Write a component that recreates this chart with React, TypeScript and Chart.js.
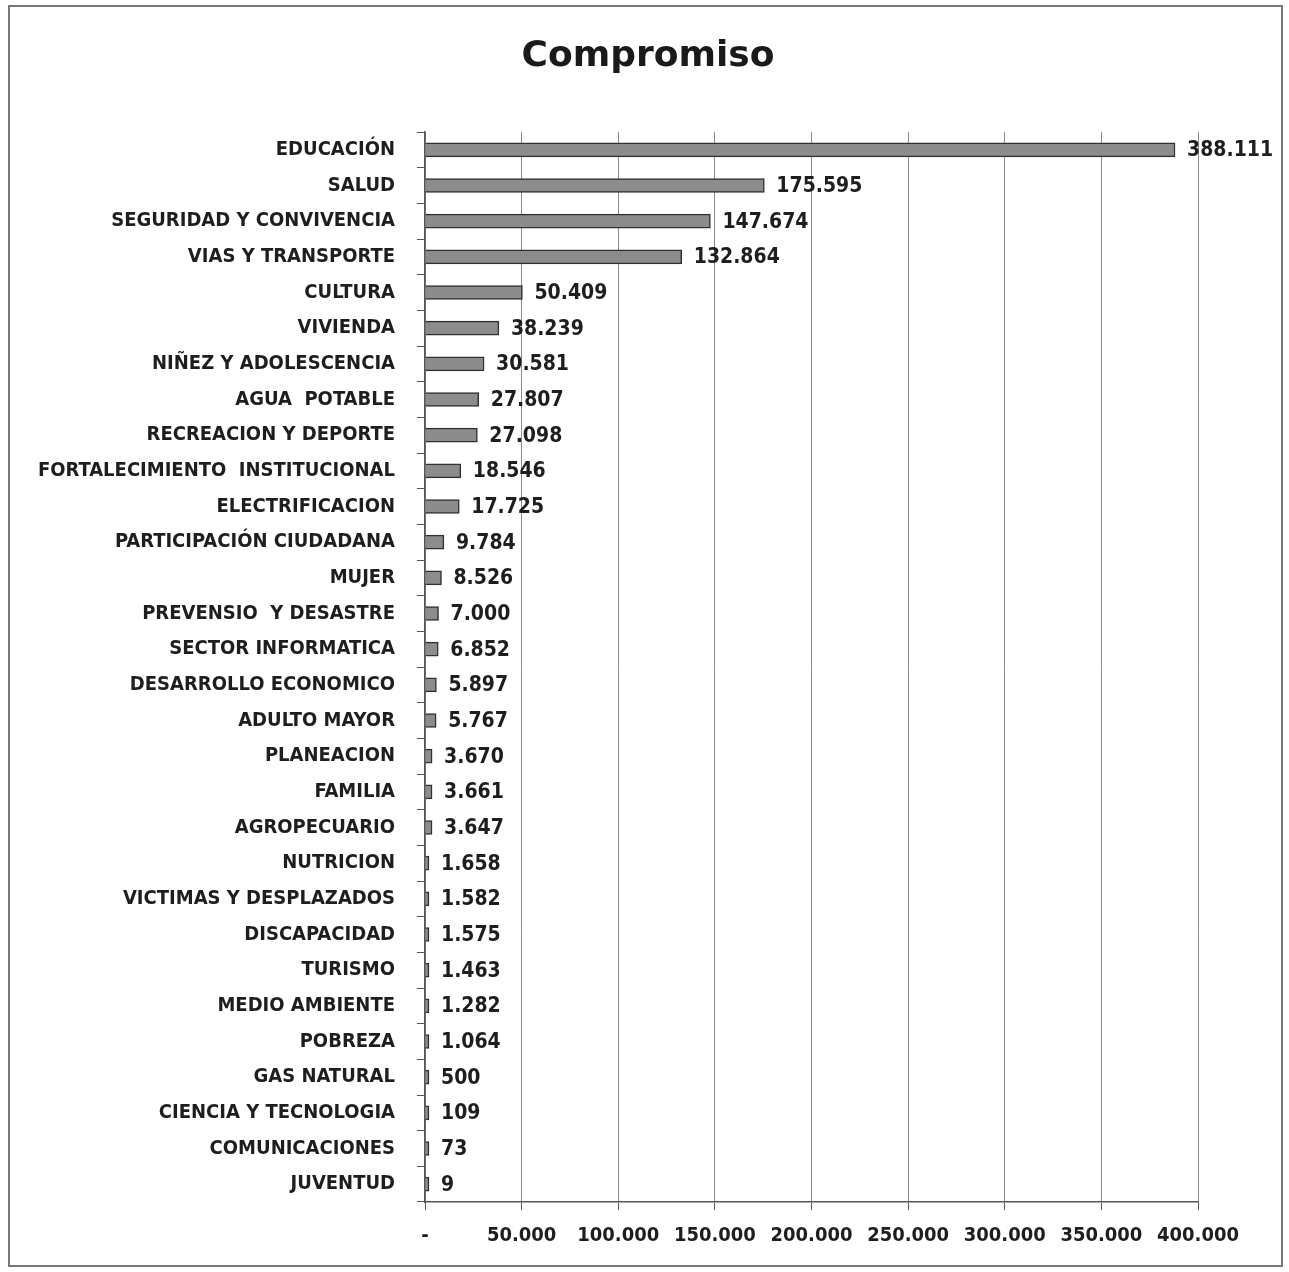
import React, { useEffect, useRef } from "react";
import { Chart, registerables } from "chart.js";

Chart.register(...registerables);

const categories: string[] = [
  "EDUCACIÓN",
  "SALUD",
  "SEGURIDAD Y CONVIVENCIA",
  "VIAS Y TRANSPORTE",
  "CULTURA",
  "VIVIENDA",
  "NIÑEZ Y ADOLESCENCIA",
  "AGUA  POTABLE",
  "RECREACION Y DEPORTE",
  "FORTALECIMIENTO  INSTITUCIONAL",
  "ELECTRIFICACION",
  "PARTICIPACIÓN CIUDADANA",
  "MUJER",
  "PREVENSIO  Y DESASTRE",
  "SECTOR INFORMATICA",
  "DESARROLLO ECONOMICO",
  "ADULTO MAYOR",
  "PLANEACION",
  "FAMILIA",
  "AGROPECUARIO",
  "NUTRICION",
  "VICTIMAS Y DESPLAZADOS",
  "DISCAPACIDAD",
  "TURISMO",
  "MEDIO AMBIENTE",
  "POBREZA",
  "GAS NATURAL",
  "CIENCIA Y TECNOLOGIA",
  "COMUNICACIONES",
  "JUVENTUD",
];

const compromiso: number[] = [
  388111, 175595, 147674, 132864, 50409, 38239, 30581, 27807, 27098, 18546,
  17725, 9784, 8526, 7000, 6852, 5897, 5767, 3670, 3661, 3647, 1658, 1582,
  1575, 1463, 1282, 1064, 500, 109, 73, 9,
];

const xTicks: number[] = [0, 50000, 100000, 150000, 200000, 250000, 300000, 350000, 400000];

const TITLE = "Compromiso";

const LABEL_FONT = "'Liberation Sans Narrow', 'DejaVu Sans Condensed', sans-serif";

function fmt(n: number): string {
  return String(n).replace(/\B(?=(\d{3})+(?!\d))/g, ".");
}

const valueLabelPlugin = {
  id: "valueLabels",
  afterDatasetsDraw(chart: any) {
    const ctx = chart.ctx;
    const meta = chart.getDatasetMeta(0);
    ctx.save();
    ctx.font = `bold 21px ${LABEL_FONT}`;
    ctx.fillStyle = "#1e1e1e";
    ctx.textAlign = "left";
    ctx.textBaseline = "middle";
    meta.data.forEach((bar: any, i: number) => {
      const v = chart.data.datasets[0].data[i] as number;
      ctx.fillText(fmt(v), bar.x + 12, bar.y + 1);
    });
    ctx.restore();
  },
};

const titlePlugin = {
  id: "pageTitle",
  afterDraw(chart: any) {
    const ctx = chart.ctx;
    ctx.save();
    ctx.font = "bold 36px 'DejaVu Sans', sans-serif";
    ctx.fillStyle = "#1a1a1a";
    ctx.textAlign = "center";
    ctx.textBaseline = "middle";
    ctx.fillText(TITLE, 648, 57);
    ctx.restore();
  },
};

export default function App() {
  const ref = useRef<HTMLCanvasElement | null>(null);

  useEffect(() => {
    if (!ref.current) return;
    const chart = new Chart(ref.current, {
      type: "bar",
      data: {
        labels: categories,
        datasets: [
          {
            label: TITLE,
            data: compromiso,
            backgroundColor: "#8c8c8c",
            borderColor: "#303030",
            borderWidth: 1.5,
            barThickness: 14,
            minBarLength: 4,
          },
        ],
      },
      options: {
        indexAxis: "y",
        animation: false,
        responsive: false,
        devicePixelRatio: 1,
        layout: { padding: { left: 0, right: 91, top: 132, bottom: 10 } },
        plugins: {
          legend: { display: false },
          tooltip: { enabled: false },
          title: { display: false },
        },
        scales: {
          x: {
            type: "linear",
            min: 0,
            max: 400000,
            afterBuildTicks: (scale: any) => {
              scale.ticks = xTicks.map((v) => ({ value: v }));
            },
            ticks: {
              color: "#1e1e1e",
              font: { family: LABEL_FONT, size: 20, weight: "bold" },
              padding: 14,
              maxRotation: 0,
              callback: (v: any) => (Number(v) === 0 ? "-" : fmt(Number(v))),
            },
            grid: {
              color: "#8a8a8a",
              lineWidth: 1,
              tickLength: 8,
              tickColor: "#555",
            },
            border: { display: true, color: "#555", width: 1.5 },
          },
          y: {
            type: "category",
            afterFit: (scale: any) => {
              scale.width = 425;
            },
            ticks: {
              color: "#1e1e1e",
              font: { family: LABEL_FONT, size: 20, weight: "bold" },
              padding: 22,
              autoSkip: false,
            },
            grid: {
              display: true,
              drawOnChartArea: false,
              drawTicks: true,
              tickLength: 8,
              tickColor: "#555",
            },
            border: { display: true, color: "#555", width: 1.5 },
          },
        },
      },
      plugins: [valueLabelPlugin, titlePlugin],
    });
    return () => chart.destroy();
  }, []);

  return (
    <div style={{ position: "absolute", left: 0, top: 0, width: 1289, height: 1272, background: "#fff" }}>
      <div
        style={{
          position: "absolute",
          left: 8,
          top: 5,
          width: 1275,
          height: 1262,
          border: "2px solid #777",
          boxSizing: "border-box",
          pointerEvents: "none",
        }}
      />
      <canvas ref={ref} width={1289} height={1272} style={{ position: "absolute", left: 0, top: 0 }} />
    </div>
  );
}
